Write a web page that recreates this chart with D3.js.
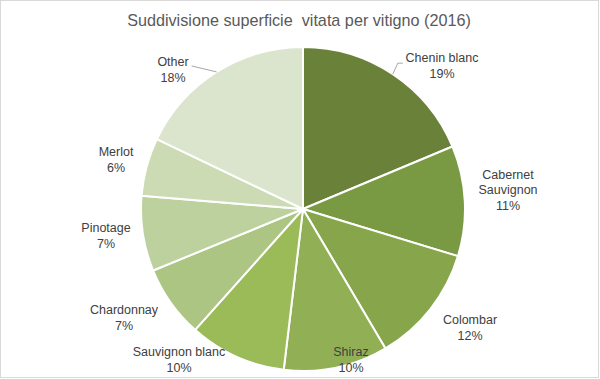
<!DOCTYPE html>
<html><head><meta charset="utf-8">
<script src="https://cdn.jsdelivr.net/npm/d3@7"></script>
<style>
html,body{margin:0;padding:0;background:#fff;}
svg{display:block;font-family:"Liberation Sans",Roboto,sans-serif;}
</style></head>
<body>
<svg id="chart" width="600" height="379"></svg>
<script>
const title = "Suddivisione superficie  vitata per vitigno (2016)";
const categories = ["Chenin blanc","Cabernet Sauvignon","Colombar","Shiraz","Sauvignon blanc","Chardonnay","Pinotage","Merlot","Other"];
const values = [18.7, 11.0, 11.8, 10.4, 9.7, 7.2, 7.5, 5.8, 17.9];
const percentLabels = ["19%","11%","12%","10%","10%","7%","7%","6%","18%"];
const colors = ["#6a8139","#7a9943","#87a64c","#91b055","#9bbb59","#adc583","#bdd19f","#cddbb5","#dbe4cc"];
// label layout: lines of label text and centre position relative to pie centre
const labelLines = [["Chenin blanc"],["Cabernet","Sauvignon"],["Colombar"],["Shiraz"],["Sauvignon blanc"],["Chardonnay"],["Pinotage"],["Merlot"],["Other"]];
const labelAnchor = [[139,-146],[205,-22],[167,116],[48,148],[-124,148],[-179,106],[-197,24],[-187,-52],[-130,-142]];
const leaderIdx = [0, 8];

const svg = d3.select("#chart");
svg.append("rect").attr("x",0.5).attr("y",0.5).attr("width",598).attr("height",377)
  .attr("fill","#fff").attr("stroke","#d9d9d9").attr("stroke-width",1);

svg.append("text").attr("x",299).attr("y",26).attr("text-anchor","middle")
  .style("white-space","pre")
  .attr("font-size",16.2).attr("fill","#595959").text(title);

const cx = 303, cy = 209, R = 162;
const g = svg.append("g").attr("transform",`translate(${cx},${cy})`);
const pie = d3.pie().sort(null).value(d=>d);
const arcs = pie(values);
const arc = d3.arc().innerRadius(0).outerRadius(R);

g.selectAll("path.slice").data(arcs).enter().append("path")
  .attr("class","slice")
  .attr("d",arc)
  .attr("fill",(d,i)=>colors[i])
  .attr("stroke","#fff").attr("stroke-width",2).attr("stroke-linejoin","round");

const lineH = 15.5;
arcs.forEach((d,i)=>{
  const lines = labelLines[i].concat([percentLabels[i]]);
  const [ax, ay] = labelAnchor[i];
  const n = lines.length;
  const t = g.append("text").attr("text-anchor","middle").attr("font-size",12.5).attr("fill","#404040");
  lines.forEach((s,k)=>{
    t.append("tspan").attr("x",ax).attr("y", ay + (k - (n-1)/2)*lineH + 7).text(s);
  });
});

// leader lines
leaderIdx.forEach(i=>{
  const d = arcs[i];
  const mid = (d.startAngle + d.endAngle)/2;
  const ex = R*Math.sin(mid), ey = -R*Math.cos(mid);
  let pts;
  if (i === 0) {
    pts = [[ex,ey],[ex+5,ey-11],[ex+10,ey-11]];
  } else {
    pts = [[ex,ey],[ex-25,ey-6]];
  }
  g.append("path").attr("d",d3.line()(pts)).attr("fill","none")
    .attr("stroke","#a6a6a6").attr("stroke-width",1);
});
</script>
</body></html>
